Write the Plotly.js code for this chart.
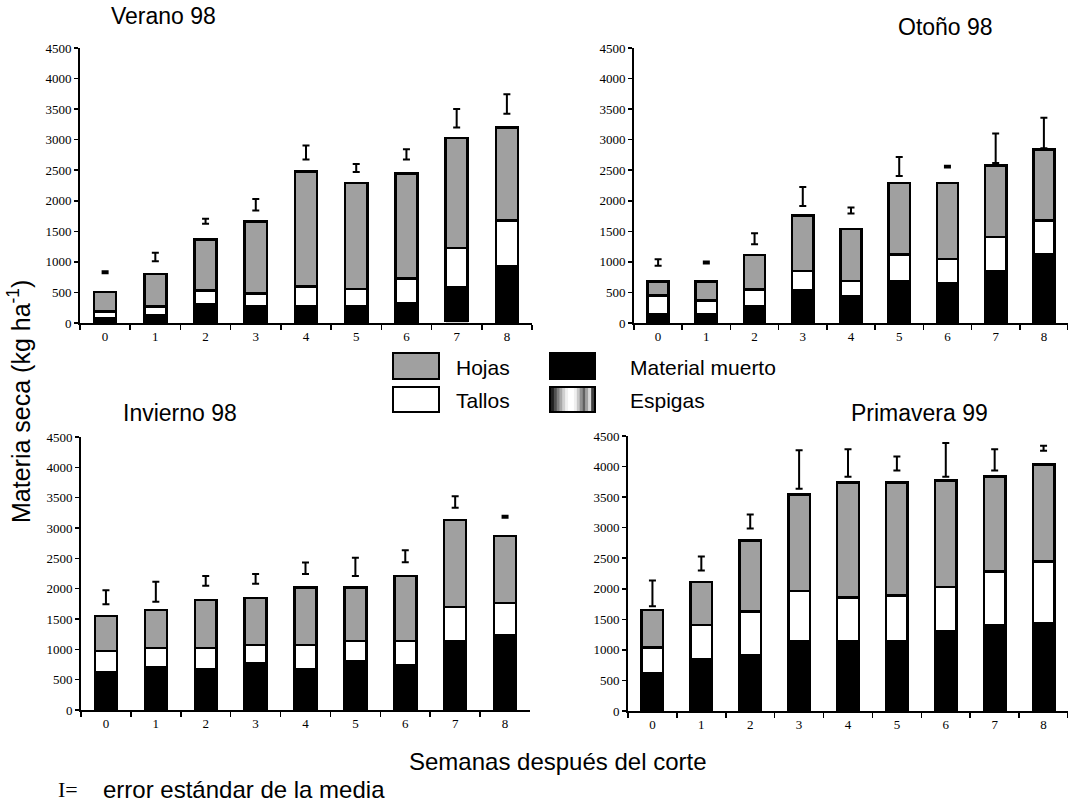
<!DOCTYPE html>
<html>
<head>
<meta charset="utf-8">
<script src="https://cdn.plot.ly/plotly-3.0.1.min.js"></script>
<style>html,body{margin:0;padding:0;background:#fff;}#chart{width:1068px;height:802px;}</style>
</head>
<body>
<div id="chart"></div>
<script>
// ---------- DATA ----------
const weeks = ['0','1','2','3','4','5','6','7','8'];
const panelTitles = ['Verano 98', 'Otoño 98', 'Invierno 98', 'Primavera 99'];
const seriesNames = ['Hojas', 'Tallos', 'Material muerto', 'Espigas'];

// Verano 98
const veranoMuerto = [80, 130, 300, 270, 270, 270, 330, 560, 930];
const veranoTallos = [110, 140, 230, 210, 330, 290, 400, 640, 750];
const veranoHojas  = [320, 530, 840, 1180, 1880, 1730, 1720, 1800, 1520];
const veranoEspigas = [null, null, null, null, null, null, null, 30, null];
const veranoErrCentro = [830, 1080, 1665, 1935, 2790, 2535, 2760, 3350, 3585];
const veranoErr = [15, 70, 40, 95, 115, 65, 85, 150, 160];

// Otoño 98
const otonoMuerto = [140, 140, 270, 530, 440, 690, 650, 850, 1120];
const otonoTallos = [310, 230, 280, 320, 250, 430, 400, 560, 560];
const otonoHojas  = [230, 310, 560, 910, 850, 1170, 1240, 1170, 1160];
const otonoErrCentro = [990, 990, 1380, 2070, 1840, 2560, 2560, 2860, 3110];
const otonoErr = [55, 15, 90, 155, 50, 155, 15, 240, 250];

// Invierno 98
const inviernoMuerto = [630, 710, 670, 770, 670, 810, 740, 1140, 1240];
const inviernoTallos = [340, 310, 350, 300, 400, 330, 400, 560, 520];
const inviernoHojas  = [580, 630, 790, 780, 950, 880, 1070, 1430, 1110];
const inviernoErrCentro = [1860, 1950, 2130, 2160, 2335, 2360, 2535, 3430, 3185];
const inviernoErr = [115, 165, 80, 80, 95, 150, 100, 95, 15];

// Primavera 99
const primaveraMuerto = [610, 840, 910, 1140, 1140, 1140, 1300, 1400, 1430];
const primaveraTallos = [430, 570, 720, 820, 720, 750, 730, 880, 1020];
const primaveraHojas  = [610, 700, 1160, 1580, 1880, 1850, 1740, 1560, 1580];
const primaveraErrCentro = [1925, 2415, 3100, 3950, 4060, 4050, 4110, 4110, 4300];
const primaveraErr = [210, 115, 115, 315, 225, 115, 275, 175, 40];

const yTickVals = [0, 500, 1000, 1500, 2000, 2500, 3000, 3500, 4000, 4500];

// ---------- STYLE ----------
const W = 1068, H = 802;
const px = v => v / W;
const py = v => 1 - v / H;
const GRAY = '#a0a0a0';
const SANS = 'Liberation Sans, Arial, sans-serif';
const SERIF = 'Liberation Serif, Times New Roman, serif';
const BARW = 0.44;

const panels = [
  {muerto: veranoMuerto, tallos: veranoTallos, hojas: veranoHojas, esp: veranoEspigas, c: veranoErrCentro, e: veranoErr, xa: 'x', ya: 'y'},
  {muerto: otonoMuerto, tallos: otonoTallos, hojas: otonoHojas, esp: null, c: otonoErrCentro, e: otonoErr, xa: 'x2', ya: 'y2'},
  {muerto: inviernoMuerto, tallos: inviernoTallos, hojas: inviernoHojas, esp: null, c: inviernoErrCentro, e: inviernoErr, xa: 'x3', ya: 'y3'},
  {muerto: primaveraMuerto, tallos: primaveraTallos, hojas: primaveraHojas, esp: null, c: primaveraErrCentro, e: primaveraErr, xa: 'x4', ya: 'y4'}
];

const traces = [];
panels.forEach(p => {
  if (p.esp) {
    traces.push({type: 'bar', name: seriesNames[3], x: weeks, y: p.esp, xaxis: p.xa, yaxis: p.ya, width: BARW,
      marker: {color: '#d8d8d8', line: {width: 0}}, showlegend: false, hoverinfo: 'skip'});
  }
  traces.push({type: 'bar', name: seriesNames[2], x: weeks, y: p.muerto, xaxis: p.xa, yaxis: p.ya, width: BARW,
    marker: {color: '#000000', line: {color: '#000', width: 2.5}}, showlegend: false});
  traces.push({type: 'bar', name: seriesNames[1], x: weeks, y: p.tallos, xaxis: p.xa, yaxis: p.ya, width: BARW,
    marker: {color: '#ffffff', line: {color: '#000', width: 2.5}}, showlegend: false});
  traces.push({type: 'bar', name: seriesNames[0], x: weeks, y: p.hojas, xaxis: p.xa, yaxis: p.ya, width: BARW,
    marker: {color: GRAY, line: {color: '#000', width: 2.5}}, showlegend: false});
  traces.push({type: 'scatter', mode: 'markers', x: weeks, y: p.c, xaxis: p.xa, yaxis: p.ya,
    marker: {size: 1, color: 'rgba(0,0,0,0)'}, showlegend: false, hoverinfo: 'skip',
    error_y: {type: 'data', array: p.e, symmetric: true, color: '#000', thickness: 2, width: 3.5}});
});

function xAxis(domain, anchor) {
  return {domain: domain, anchor: anchor, type: 'category', range: [-0.5, 8.5], tickson: 'boundaries',
    showline: true, linecolor: '#000', linewidth: 2, ticks: 'outside', ticklen: 5, tickwidth: 1.5, tickcolor: '#000',
    showgrid: false, zeroline: false, tickfont: {family: SERIF, size: 13, color: '#000'}, fixedrange: true};
}
function yAxis(domain, anchor) {
  return {domain: domain, anchor: anchor, range: [0, 4500], tickvals: yTickVals, ticktext: yTickVals.map(String),
    showline: true, linecolor: '#000', linewidth: 2, ticks: 'outside', ticklen: 4, tickwidth: 1.5, tickcolor: '#000',
    showgrid: false, zeroline: false, tickfont: {family: SERIF, size: 13, color: '#000'}, fixedrange: true};
}

const yTop = [py(323), py(48)];
const yBot = [py(710), py(437)];

const shapes = [];
const annotations = [];

// legend boxes
function box(x0, y0, x1, y1, fill) {
  shapes.push({type: 'rect', xref: 'paper', yref: 'paper', x0: px(x0), x1: px(x1), y0: py(y1), y1: py(y0),
    fillcolor: fill, line: {color: '#000', width: 2}, layer: 'above'});
}
box(393, 353, 439, 379, GRAY);
box(393, 387, 439, 412, '#ffffff');
box(550, 353, 595, 379, '#000000');
const grad = ['#202020','#505050','#808080','#a8a8a8','#d0d0d0','#f0f0f0','#ffffff','#ffffff','#f0f0f0','#c8c8c8','#909090','#606060','#a0a0a0','#d8d8d8','#404040'];
const gx0 = 551, gx1 = 594, gw = (gx1 - gx0) / grad.length;
grad.forEach((c, i) => {
  shapes.push({type: 'rect', xref: 'paper', yref: 'paper', x0: px(gx0 + i * gw), x1: px(gx0 + (i + 1) * gw + 0.3),
    y0: py(411), y1: py(388), fillcolor: c, line: {width: 0}, layer: 'above'});
});
shapes.push({type: 'rect', xref: 'paper', yref: 'paper', x0: px(550), x1: px(595), y0: py(412), y1: py(387),
  fillcolor: 'rgba(0,0,0,0)', line: {color: '#000', width: 2}, layer: 'above'});

function txt(text, x, y, size, family, xanchor, extra) {
  annotations.push(Object.assign({text: text, xref: 'paper', yref: 'paper', x: px(x), y: py(y), showarrow: false,
    xanchor: xanchor || 'left', yanchor: 'middle', font: {family: family || SANS, size: size, color: '#000'}}, extra || {}));
}
txt(seriesNames[0], 454, 367, 21);
txt(seriesNames[1], 454, 400, 21);
txt(seriesNames[2], 628, 367, 21);
txt(seriesNames[3], 628, 400, 21);

// panel titles
txt(panelTitles[0], 163, 16, 23, SANS, 'center');
txt(panelTitles[1], 945, 27, 23, SANS, 'center');
txt(panelTitles[2], 180, 413, 23, SANS, 'center');
txt(panelTitles[3], 919, 413, 23, SANS, 'center');

// axis titles
txt('Materia seca (kg ha<sup>-1</sup>)', 19, 402, 25, SANS, 'center', {textangle: -90});
txt('Semanas después del corte', 558, 761, 24, SANS, 'center');
txt('I=', 56, 789, 22, SERIF, 'left');
txt('error estándar de la media', 101, 789, 24, SANS, 'left');

const layout = {
  width: W, height: H, margin: {l: 0, r: 0, t: 0, b: 0}, paper_bgcolor: '#fff', plot_bgcolor: 'rgba(0,0,0,0)',
  barmode: 'stack', showlegend: false,
  xaxis: xAxis([px(80), px(532)], 'y'), yaxis: yAxis(yTop, 'x'),
  xaxis2: xAxis([px(634), 1], 'y2'), yaxis2: yAxis(yTop, 'x2'),
  xaxis3: xAxis([px(81), px(530)], 'y3'), yaxis3: yAxis(yBot, 'x3'),
  xaxis4: xAxis([px(628), 1], 'y4'), yaxis4: yAxis([py(711), py(436)], 'x4'),
  shapes: shapes, annotations: annotations
};

Plotly.newPlot('chart', traces, layout, {displayModeBar: false, staticPlot: true});
</script>
</body>
</html>
